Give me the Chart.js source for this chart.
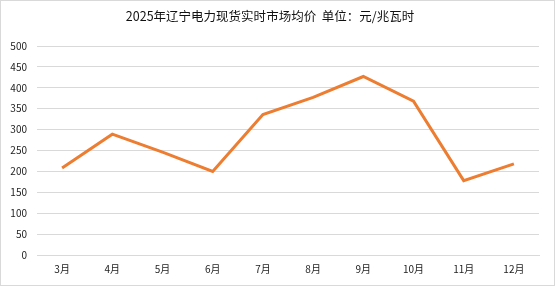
<!DOCTYPE html>
<html>
<head>
<meta charset="utf-8">
<script src="https://cdn.jsdelivr.net/npm/chart.js@4"></script>
<style>
  html, body { margin: 0; padding: 0; background: #fff; }
  #box { width: 555px; height: 286px; box-sizing: border-box; border: 1px solid #d9d9d9; position: relative; }
  #myChart { position: absolute; left: 0; top: 0; }
</style>
</head>
<body>
<div id="box"><canvas id="myChart" width="553" height="284"></canvas></div>
<script>
// data
var months = ["3月", "4月", "5月", "6月", "7月", "8月", "9月", "10月", "11月", "12月"];
var prices = [208, 289, 246, 200, 336, 377, 427, 368, 178, 218];
var yTicks = [0, 50, 100, 150, 200, 250, 300, 350, 400, 450, 500];
var titleText = "2025年辽宁电力现货实时市场均价  单位：元/兆瓦时";

var fontFamily = '"Noto Sans CJK SC", "DejaVu Sans", sans-serif';

var ctx = document.getElementById("myChart");
var myChart = new Chart(ctx, {
    type: 'line',
    data: {
        labels: months,
        datasets: [
            {
                label: "均价",
                data: prices,
                borderColor: '#ED7D31',
                backgroundColor: '#ED7D31',
                borderWidth: 3,
                pointRadius: 0,
                tension: 0,
                fill: false
            }
        ]
    },
    options: {
        responsive: false,
        animation: false,
        layout: {
            padding: { top: 0, right: 15, bottom: 2, left: 0 }
        },
        plugins: {
            legend: { display: false },
            tooltip: { enabled: false },
            title: {
                display: true,
                text: titleText,
                color: '#111',
                font: { family: fontFamily, size: 12.5, weight: 'normal' },
                padding: { top: 8, bottom: 22 }
            }
        },
        scales: {
            x: {
                offset: true,
                grid: { display: false, drawTicks: false },
                border: { color: '#d9d9d9', width: 1 },
                ticks: {
                    color: '#222',
                    font: { family: fontFamily, size: 10 },
                    padding: 8,
                    maxRotation: 0
                }
            },
            y: {
                min: 0,
                max: 500,
                afterBuildTicks: function(scale) {
                    scale.ticks = yTicks.map(function(v) { return { value: v }; });
                },
                afterFit: function(scale) { scale.width = 36; },
                grid: { color: '#d9d9d9', lineWidth: 1, drawTicks: false },
                border: { display: false },
                ticks: {
                    color: '#222',
                    font: { family: fontFamily, size: 10 },
                    padding: 10
                }
            }
        }
    }
});
</script>
</body>
</html>
